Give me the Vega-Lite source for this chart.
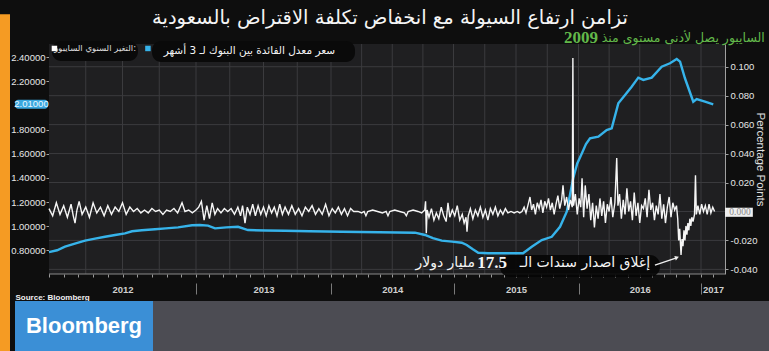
{
  "$schema": "https://vega.github.io/schema/vega-lite/v6.json",
  "background": "#0e0e0e",
  "padding": {"left": 0, "top": 8, "right": 0, "bottom": 0},
  "config": {
    "view": {"stroke": null},
    "axis": {"labelFont": "Liberation Sans", "titleFont": "Liberation Sans", "zindex": 1},
    "text": {"font": "DejaVu Sans"}
  },
  "columns": 2,
  "align": "none",
  "spacing": 0,
  "concat": [
    {
      "width": 10,
      "height": 311,
      "view": {"fill": "#f59b23", "stroke": null},
      "data": {"values": [{}]},
      "mark": {"type": "rect", "color": "#f59b23"},
      "encoding": {
        "x": {"datum": 0, "type": "quantitative", "scale": {"domain": [0, 1], "nice": false, "zero": false}, "axis": null},
        "x2": {"datum": 1},
        "y": {"datum": 0, "type": "quantitative", "scale": {"domain": [0, 1], "nice": false, "zero": false}, "axis": null},
        "y2": {"datum": 1.096}
      }
    },
    {
      "spacing": 0,
      "vconcat": [
        {
          "width": 710,
          "height": 230,
          "title": {
            "text": "تزامن ارتفاع السيولة مع انخفاض تكلفة الاقتراض بالسعودية",
            "font": "DejaVu Sans",
            "fontSize": 19.5,
            "fontWeight": "normal",
            "color": "#f5f5f5",
            "anchor": "middle",
            "dx": 20,
            "offset": 0
          },
          "layer": [
            {
              "layer": [
                {
                  "data": {"values": [{}]},
                  "mark": {"type": "rect", "color": "#1f1f21"},
                  "encoding": {
                    "x": {
                      "datum": 2012,
                      "type": "quantitative",
                      "scale": {"domain": [2012, 2013, 2014, 2015, 2016, 2017, 2017.194], "range": [34, 181, 316, 438.5, 563.5, 686, 710], "nice": false, "zero": false},
                      "axis": {
                        "orient": "bottom",
                        "values": [2012.5, 2013.5, 2014.5, 2015.5, 2016.5, 2017.097],
                        "tickCount": 30,
                        "labelExpr": "floor(datum.value)",
                        "ticks": false,
                        "domain": false,
                        "grid": false,
                        "labelFlush": false,
                        "labelOverlap": false,
                        "labelPadding": 10,
                        "labelFontSize": 9.5,
                        "labelFontWeight": "bold",
                        "labelColor": "#cfcfcf",
                        "title": "Source: Bloomberg",
                        "titleAnchor": "start",
                        "titleAlign": "left",
                        "titleX": 0,
                        "titleY": 23,
                        "titleFontSize": 8,
                        "titleFontWeight": "bold",
                        "titleColor": "#f0f0f0",
                        "titleBaseline": "middle"
                      }
                    },
                    "x2": {"datum": 2017.194},
                    "y": {
                      "datum": -0.0432,
                      "type": "quantitative",
                      "scale": {"domain": [-0.0432, 0.1157], "nice": false, "zero": false},
                      "axis": {
                        "orient": "right",
                        "values": [-0.04, -0.02, 0.02, 0.04, 0.06, 0.08, 0.1],
                        "tickCount": 30,
                        "labelExpr": "replace(format(datum.value, '.3f'), '−', '-')",
                        "labelOverlap": false,
                        "labelFlush": false,
                        "tickSize": 3,
                        "labelPadding": 2,
                        "labelFontSize": 9.5,
                        "labelColor": "#e6e6e6",
                        "domainColor": "#a0a0a0",
                        "tickColor": "#a0a0a0",
                        "grid": false,
                        "title": "Percentage Points",
                        "titleFontSize": 11.5,
                        "titleFontWeight": "normal",
                        "titleColor": "#e0e0e0",
                        "titleAngle": 90,
                        "titleX": 34,
                        "titleY": 115,
                        "titleAlign": "center",
                        "titleBaseline": "middle"
                      }
                    },
                    "y2": {"datum": 0.1157}
                  }
                },
                {
                  "data": {"values": [{"t": 2012.25}, {"t": 2012.5}, {"t": 2012.75}, {"t": 2013}, {"t": 2013.25}, {"t": 2013.5}, {"t": 2013.75}, {"t": 2014}, {"t": 2014.25}, {"t": 2014.5}, {"t": 2014.75}, {"t": 2015}, {"t": 2015.25}, {"t": 2015.5}, {"t": 2015.75}, {"t": 2016}, {"t": 2016.25}, {"t": 2016.5}, {"t": 2016.75}, {"t": 2017}]},
                  "mark": {"type": "rule", "color": "#3b3b3e", "strokeWidth": 1},
                  "encoding": {
                    "x": {"field": "t", "type": "quantitative"},
                    "y": {"datum": -0.0432},
                    "y2": {"datum": 0.1157}
                  }
                },
                {
                  "data": {"values": [{"w": -0.04}, {"w": -0.02}, {"w": 0}, {"w": 0.02}, {"w": 0.04}, {"w": 0.06}, {"w": 0.08}, {"w": 0.1}]},
                  "mark": {"type": "rule", "color": "#3b3b3e", "strokeWidth": 1},
                  "encoding": {
                    "y": {"field": "w", "type": "quantitative"},
                    "x": {"datum": 2012},
                    "x2": {"datum": 2017.194}
                  }
                },
                {
                  "data": {"values": [{}]},
                  "mark": {"type": "rule", "color": "#8a8a8a", "strokeWidth": 1},
                  "encoding": {
                    "x": {"datum": 2012},
                    "x2": {"datum": 2017.194},
                    "y": {"datum": -0.0432}
                  }
                }
              ]
            },
            {
              "layer": [
                {
                  "data": {"values": [{"t": 2012.02, "t2": 2012.605, "v": 2.535, "v2": 2.37}, {"t": 2012.701, "t2": 2014.196, "v": 2.535, "v2": 2.36}]},
                  "mark": {"type": "rect", "color": "#0a0a0a", "cornerRadius": 9},
                  "encoding": {
                    "x": {
                      "field": "t",
                      "type": "quantitative",
                      "axis": {
                        "orient": "bottom",
                        "values": [2013, 2014, 2015, 2016, 2017],
                        "tickCount": 30,
                        "labels": false,
                        "domain": false,
                        "grid": false,
                        "ticks": true,
                        "tickSize": 11,
                        "offset": 9,
                        "tickColor": "#7a7a7a",
                        "title": null
                      }
                    },
                    "x2": {"field": "t2"},
                    "y": {
                      "field": "v",
                      "type": "quantitative",
                      "scale": {"domain": [0.6035, 2.51], "nice": false, "zero": false},
                      "axis": {
                        "orient": "left",
                        "offset": -34,
                        "values": [0.8, 1.0, 1.2, 1.4, 1.6, 1.8, 2.2, 2.4],
                        "tickCount": 30,
                        "format": ".5f",
                        "labelOverlap": false,
                        "labelFlush": false,
                        "tickSize": 3,
                        "labelPadding": 1,
                        "labelFontSize": 9.5,
                        "labelColor": "#e6e6e6",
                        "domainColor": "#a0a0a0",
                        "tickColor": "#a0a0a0",
                        "grid": false,
                        "title": null
                      }
                    },
                    "y2": {"field": "v2"}
                  }
                },
                {
                  "data": {"values": [{"t": 2015.372, "t2": 2016.665, "v": 0.761, "v2": 0.579}]},
                  "mark": {"type": "rect", "color": "#050505", "opacity": 0.9, "cornerRadius": 10},
                  "encoding": {
                    "x": {"field": "t", "type": "quantitative"},
                    "x2": {"field": "t2"},
                    "y": {"field": "v", "type": "quantitative"},
                    "y2": {"field": "v2"}
                  }
                },
                {
                  "data": {"values": [
                    {"t": 2012.0, "v": 0.785}, {"t": 2012.055, "v": 0.8}, {"t": 2012.109, "v": 0.83}, {"t": 2012.176, "v": 0.855},
                    {"t": 2012.245, "v": 0.88}, {"t": 2012.313, "v": 0.897}, {"t": 2012.381, "v": 0.912}, {"t": 2012.45, "v": 0.927},
                    {"t": 2012.517, "v": 0.94}, {"t": 2012.565, "v": 0.958}, {"t": 2012.631, "v": 0.966}, {"t": 2012.721, "v": 0.974},
                    {"t": 2012.794, "v": 0.982}, {"t": 2012.878, "v": 0.99}, {"t": 2012.973, "v": 1.008}, {"t": 2013.028, "v": 1.01},
                    {"t": 2013.089, "v": 1.005}, {"t": 2013.141, "v": 0.982}, {"t": 2013.224, "v": 0.99}, {"t": 2013.311, "v": 0.995},
                    {"t": 2013.385, "v": 0.968}, {"t": 2013.514, "v": 0.964}, {"t": 2013.659, "v": 0.962}, {"t": 2013.841, "v": 0.958},
                    {"t": 2014.087, "v": 0.954}, {"t": 2014.392, "v": 0.95}, {"t": 2014.686, "v": 0.946}, {"t": 2014.767, "v": 0.927},
                    {"t": 2014.832, "v": 0.9}, {"t": 2014.904, "v": 0.88}, {"t": 2014.988, "v": 0.872}, {"t": 2015.066, "v": 0.863},
                    {"t": 2015.106, "v": 0.844}, {"t": 2015.152, "v": 0.81}, {"t": 2015.198, "v": 0.78}, {"t": 2015.276, "v": 0.775},
                    {"t": 2015.556, "v": 0.775}, {"t": 2015.626, "v": 0.83}, {"t": 2015.706, "v": 0.885}, {"t": 2015.786, "v": 0.912},
                    {"t": 2015.852, "v": 0.995}, {"t": 2015.906, "v": 1.12}, {"t": 2015.932, "v": 1.26}, {"t": 2015.958, "v": 1.4},
                    {"t": 2015.99, "v": 1.52}, {"t": 2016.026, "v": 1.6}, {"t": 2016.061, "v": 1.68}, {"t": 2016.094, "v": 1.728},
                    {"t": 2016.162, "v": 1.742}, {"t": 2016.23, "v": 1.797}, {"t": 2016.271, "v": 1.811}, {"t": 2016.325, "v": 2.018},
                    {"t": 2016.38, "v": 2.087}, {"t": 2016.434, "v": 2.156}, {"t": 2016.488, "v": 2.231}, {"t": 2016.529, "v": 2.212},
                    {"t": 2016.598, "v": 2.231}, {"t": 2016.679, "v": 2.322}, {"t": 2016.747, "v": 2.35}, {"t": 2016.802, "v": 2.386},
                    {"t": 2016.829, "v": 2.364}, {"t": 2016.869, "v": 2.226}, {"t": 2016.937, "v": 2.032}, {"t": 2016.965, "v": 2.054},
                    {"t": 2017.032, "v": 2.032}, {"t": 2017.099, "v": 2.01}
                  ]},
                  "mark": {"type": "line", "color": "#36b3ea", "strokeWidth": 2.4},
                  "encoding": {
                    "x": {"field": "t", "type": "quantitative"},
                    "y": {"field": "v", "type": "quantitative"}
                  }
                },
                {
                  "data": {"values": [{"t": 2011.769, "t2": 2011.993, "v": 2.047, "v2": 1.973}]},
                  "mark": {"type": "rect", "color": "#3aa7df", "cornerRadius": 3},
                  "encoding": {
                    "x": {"field": "t", "type": "quantitative"},
                    "x2": {"field": "t2"},
                    "y": {"field": "v", "type": "quantitative"},
                    "y2": {"field": "v2"}
                  }
                },
                {
                  "data": {"values": [{"t": 2011.881, "v": 2.01, "label": "2.01000"}]},
                  "mark": {"type": "text", "font": "Liberation Sans", "fontSize": 9.5, "color": "#eaf8ff", "align": "center", "baseline": "middle"},
                  "encoding": {
                    "x": {"field": "t", "type": "quantitative"},
                    "y": {"field": "v", "type": "quantitative"},
                    "text": {"field": "label"}
                  }
                },
                {
                  "data": {"values": [{"t": 2012.037, "v": 2.473}]},
                  "mark": {"type": "point", "shape": "square", "filled": true, "size": 30, "color": "#ffffff", "opacity": 1},
                  "encoding": {
                    "x": {"field": "t", "type": "quantitative"},
                    "y": {"field": "v", "type": "quantitative"}
                  }
                },
                {
                  "data": {"values": [{"t": 2012.673, "v": 2.473}]},
                  "mark": {"type": "point", "shape": "square", "filled": true, "size": 30, "color": "#36b3ea", "opacity": 1},
                  "encoding": {
                    "x": {"field": "t", "type": "quantitative"},
                    "y": {"field": "v", "type": "quantitative"}
                  }
                },
                {
                  "data": {"values": [{"t": 2012.592, "v": 2.473, "label": "التغير السنوي السايبور:"}]},
                  "mark": {"type": "text", "fontSize": 8.5, "color": "#dddddd", "align": "right", "baseline": "middle"},
                  "encoding": {
                    "x": {"field": "t", "type": "quantitative"},
                    "y": {"field": "v", "type": "quantitative"},
                    "text": {"field": "label"}
                  }
                },
                {
                  "data": {"values": [{"t": 2014.033, "v": 2.452, "label": "سعر معدل الفائدة بين البنوك لـ 3 أشهر"}]},
                  "mark": {"type": "text", "fontSize": 10.5, "color": "#f5f5f5", "align": "right", "baseline": "middle"},
                  "encoding": {
                    "x": {"field": "t", "type": "quantitative"},
                    "y": {"field": "v", "type": "quantitative"},
                    "text": {"field": "label"}
                  }
                },
                {
                  "data": {"values": [{"t": 2017.516, "v": 2.56, "label": "السايبور يصل لأدنى مستوى منذ"}]},
                  "mark": {"type": "text", "fontSize": 12.5, "color": "#62b84a", "align": "right", "baseline": "middle"},
                  "encoding": {
                    "x": {"field": "t", "type": "quantitative"},
                    "y": {"field": "v", "type": "quantitative"},
                    "text": {"field": "label"}
                  }
                },
                {
                  "data": {"values": [{"t": 2016.16, "v": 2.56, "label": "2009"}]},
                  "mark": {"type": "text", "font": "Liberation Serif", "fontWeight": "bold", "fontSize": 17, "color": "#62b84a", "align": "right", "baseline": "middle"},
                  "encoding": {
                    "x": {"field": "t", "type": "quantitative"},
                    "y": {"field": "v", "type": "quantitative"},
                    "text": {"field": "label"}
                  }
                },
                {
                  "data": {"values": [{"t": 2016.584, "v": 0.694, "label": "إغلاق اصدار سندات الـ"}, {"t": 2015.172, "v": 0.694, "label": "مليار دولار"}]},
                  "mark": {"type": "text", "fontSize": 14, "color": "#f5f5f5", "align": "right", "baseline": "middle"},
                  "encoding": {
                    "x": {"field": "t", "type": "quantitative"},
                    "y": {"field": "v", "type": "quantitative"},
                    "text": {"field": "label"}
                  }
                },
                {
                  "data": {"values": [{"t": 2015.428, "v": 0.692, "label": "17.5"}]},
                  "mark": {"type": "text", "font": "Liberation Serif", "fontWeight": "bold", "fontSize": 17, "color": "#f5f5f5", "align": "right", "baseline": "middle"},
                  "encoding": {
                    "x": {"field": "t", "type": "quantitative"},
                    "y": {"field": "v", "type": "quantitative"},
                    "text": {"field": "label"}
                  }
                },
                {
                  "data": {"values": [{"t": 2016.624, "t2": 2016.8, "v": 0.678, "v2": 0.738}]},
                  "mark": {"type": "rule", "color": "#f0f0f0", "strokeWidth": 1.3},
                  "encoding": {
                    "x": {"field": "t", "type": "quantitative"},
                    "x2": {"field": "t2"},
                    "y": {"field": "v", "type": "quantitative"},
                    "y2": {"field": "v2"}
                  }
                },
                {
                  "data": {"values": [{"t": 2016.804, "v": 0.74}]},
                  "mark": {"type": "point", "shape": "triangle-up", "filled": true, "size": 22, "angle": 71, "color": "#f0f0f0", "opacity": 1},
                  "encoding": {
                    "x": {"field": "t", "type": "quantitative"},
                    "y": {"field": "v", "type": "quantitative"}
                  }
                }
              ]
            },
            {
              "layer": [
                {
                  "data": {"values": [
                    {"t": 2012.0, "w": 0.002}, {"t": 2012.025, "w": -0.003}, {"t": 2012.05, "w": 0.006}, {"t": 2012.075, "w": -0.002},
                    {"t": 2012.1, "w": 0.004}, {"t": 2012.125, "w": -0.004}, {"t": 2012.15, "w": 0.005}, {"t": 2012.165, "w": -0.003},
                    {"t": 2012.177, "w": -0.008}, {"t": 2012.19, "w": 0.001}, {"t": 2012.205, "w": 0.007}, {"t": 2012.225, "w": -0.002},
                    {"t": 2012.25, "w": 0.003}, {"t": 2012.275, "w": -0.004}, {"t": 2012.3, "w": 0.006}, {"t": 2012.325, "w": -0.001},
                    {"t": 2012.35, "w": 0.003}, {"t": 2012.375, "w": -0.003}, {"t": 2012.4, "w": 0.004}, {"t": 2012.425, "w": -0.002},
                    {"t": 2012.45, "w": 0.003}, {"t": 2012.475, "w": 0.0}, {"t": 2012.5, "w": 0.006}, {"t": 2012.525, "w": -0.002},
                    {"t": 2012.55, "w": 0.003}, {"t": 2012.575, "w": 0.0}, {"t": 2012.6, "w": 0.002}, {"t": 2012.625, "w": -0.001},
                    {"t": 2012.65, "w": 0.001}, {"t": 2012.675, "w": -0.001}, {"t": 2012.7, "w": 0.002}, {"t": 2012.725, "w": 0.0},
                    {"t": 2012.75, "w": 0.001}, {"t": 2012.775, "w": -0.002}, {"t": 2012.8, "w": 0.001}, {"t": 2012.825, "w": 0.0},
                    {"t": 2012.85, "w": 0.002}, {"t": 2012.875, "w": -0.001}, {"t": 2012.905, "w": 0.006}, {"t": 2012.925, "w": 0.0},
                    {"t": 2012.95, "w": 0.001}, {"t": 2012.975, "w": -0.001}, {"t": 2013.0, "w": 0.001}, {"t": 2013.02, "w": 0.003},
                    {"t": 2013.04, "w": 0.007}, {"t": 2013.06, "w": -0.006}, {"t": 2013.08, "w": 0.004}, {"t": 2013.1, "w": -0.005},
                    {"t": 2013.12, "w": 0.006}, {"t": 2013.14, "w": -0.002}, {"t": 2013.16, "w": 0.002}, {"t": 2013.185, "w": -0.001},
                    {"t": 2013.21, "w": 0.002}, {"t": 2013.235, "w": 0.0}, {"t": 2013.26, "w": 0.002}, {"t": 2013.285, "w": -0.002},
                    {"t": 2013.31, "w": 0.003}, {"t": 2013.33, "w": -0.003}, {"t": 2013.345, "w": 0.004}, {"t": 2013.363, "w": -0.008},
                    {"t": 2013.38, "w": 0.003}, {"t": 2013.4, "w": -0.002}, {"t": 2013.42, "w": 0.005}, {"t": 2013.44, "w": -0.003},
                    {"t": 2013.46, "w": 0.004}, {"t": 2013.48, "w": -0.002}, {"t": 2013.5, "w": 0.003}, {"t": 2013.52, "w": -0.003},
                    {"t": 2013.54, "w": 0.004}, {"t": 2013.56, "w": -0.001}, {"t": 2013.58, "w": 0.003}, {"t": 2013.6, "w": -0.003},
                    {"t": 2013.62, "w": 0.005}, {"t": 2013.64, "w": -0.002}, {"t": 2013.66, "w": 0.003}, {"t": 2013.685, "w": -0.002},
                    {"t": 2013.71, "w": 0.004}, {"t": 2013.735, "w": -0.002}, {"t": 2013.76, "w": 0.002}, {"t": 2013.785, "w": -0.003},
                    {"t": 2013.81, "w": 0.003}, {"t": 2013.835, "w": 0.0}, {"t": 2013.86, "w": 0.004}, {"t": 2013.885, "w": -0.002},
                    {"t": 2013.91, "w": 0.002}, {"t": 2013.935, "w": -0.002}, {"t": 2013.96, "w": 0.005}, {"t": 2013.985, "w": -0.003},
                    {"t": 2014.01, "w": 0.002}, {"t": 2014.035, "w": -0.001}, {"t": 2014.06, "w": 0.003}, {"t": 2014.085, "w": -0.002},
                    {"t": 2014.11, "w": 0.002}, {"t": 2014.135, "w": -0.003}, {"t": 2014.16, "w": 0.002}, {"t": 2014.185, "w": 0.0},
                    {"t": 2014.22, "w": 0.0}, {"t": 2014.25, "w": -0.001}, {"t": 2014.27, "w": 0.0}, {"t": 2014.285, "w": -0.003},
                    {"t": 2014.3, "w": 0.0}, {"t": 2014.34, "w": 0.001}, {"t": 2014.38, "w": 0.0}, {"t": 2014.42, "w": -0.001},
                    {"t": 2014.45, "w": 0.0}, {"t": 2014.465, "w": -0.003}, {"t": 2014.48, "w": 0.0}, {"t": 2014.52, "w": 0.001},
                    {"t": 2014.56, "w": 0.0}, {"t": 2014.6, "w": -0.001}, {"t": 2014.615, "w": -0.003}, {"t": 2014.63, "w": 0.0},
                    {"t": 2014.67, "w": 0.001}, {"t": 2014.71, "w": 0.0}, {"t": 2014.74, "w": -0.001}, {"t": 2014.765, "w": 0.001},
                    {"t": 2014.772, "w": 0.007}, {"t": 2014.778, "w": -0.015}, {"t": 2014.785, "w": 0.001}, {"t": 2014.8, "w": -0.004},
                    {"t": 2014.82, "w": 0.002}, {"t": 2014.84, "w": -0.006}, {"t": 2014.86, "w": -0.001}, {"t": 2014.88, "w": -0.005},
                    {"t": 2014.9, "w": 0.003}, {"t": 2014.92, "w": -0.003}, {"t": 2014.94, "w": -0.007}, {"t": 2014.955, "w": 0.006},
                    {"t": 2014.97, "w": -0.004}, {"t": 2014.99, "w": 0.001}, {"t": 2015.01, "w": -0.003}, {"t": 2015.03, "w": 0.004},
                    {"t": 2015.05, "w": -0.006}, {"t": 2015.07, "w": -0.002}, {"t": 2015.085, "w": -0.008}, {"t": 2015.1, "w": -0.004},
                    {"t": 2015.108, "w": -0.014}, {"t": 2015.118, "w": -0.003}, {"t": 2015.135, "w": 0.002}, {"t": 2015.155, "w": -0.005},
                    {"t": 2015.175, "w": 0.001}, {"t": 2015.195, "w": -0.003}, {"t": 2015.215, "w": 0.003}, {"t": 2015.235, "w": -0.004},
                    {"t": 2015.255, "w": 0.001}, {"t": 2015.275, "w": -0.006}, {"t": 2015.295, "w": 0.002}, {"t": 2015.315, "w": -0.002},
                    {"t": 2015.335, "w": 0.003}, {"t": 2015.355, "w": -0.003}, {"t": 2015.375, "w": 0.001}, {"t": 2015.395, "w": -0.002},
                    {"t": 2015.415, "w": 0.002}, {"t": 2015.435, "w": -0.001}, {"t": 2015.46, "w": 0.0}, {"t": 2015.485, "w": -0.001},
                    {"t": 2015.51, "w": 0.0}, {"t": 2015.53, "w": -0.001}, {"t": 2015.548, "w": 0.0}, {"t": 2015.565, "w": 0.003},
                    {"t": 2015.58, "w": -0.001}, {"t": 2015.595, "w": 0.004}, {"t": 2015.612, "w": 0.01}, {"t": 2015.625, "w": 0.001},
                    {"t": 2015.64, "w": 0.005}, {"t": 2015.655, "w": -0.002}, {"t": 2015.67, "w": 0.006}, {"t": 2015.685, "w": 0.002},
                    {"t": 2015.7, "w": 0.008}, {"t": 2015.715, "w": -0.001}, {"t": 2015.73, "w": 0.007}, {"t": 2015.745, "w": 0.003},
                    {"t": 2015.76, "w": 0.009}, {"t": 2015.775, "w": 0.001}, {"t": 2015.79, "w": 0.006}, {"t": 2015.805, "w": -0.002},
                    {"t": 2015.82, "w": 0.005}, {"t": 2015.835, "w": 0.011}, {"t": 2015.85, "w": 0.002}, {"t": 2015.865, "w": 0.008},
                    {"t": 2015.876, "w": 0.018}, {"t": 2015.89, "w": 0.004}, {"t": 2015.905, "w": 0.01}, {"t": 2015.92, "w": 0.001},
                    {"t": 2015.935, "w": 0.008}, {"t": 2015.95, "w": 0.003}, {"t": 2015.955, "w": 0.106}, {"t": 2015.96, "w": 0.004},
                    {"t": 2015.975, "w": 0.012}, {"t": 2015.99, "w": -0.002}, {"t": 2016.005, "w": 0.009}, {"t": 2016.018, "w": 0.003},
                    {"t": 2016.029, "w": 0.023}, {"t": 2016.042, "w": -0.004}, {"t": 2016.055, "w": 0.018}, {"t": 2016.07, "w": 0.002},
                    {"t": 2016.085, "w": 0.012}, {"t": 2016.1, "w": -0.006}, {"t": 2016.115, "w": 0.006}, {"t": 2016.13, "w": -0.011},
                    {"t": 2016.145, "w": 0.004}, {"t": 2016.16, "w": -0.005}, {"t": 2016.175, "w": 0.009}, {"t": 2016.19, "w": -0.003},
                    {"t": 2016.205, "w": 0.007}, {"t": 2016.22, "w": -0.008}, {"t": 2016.235, "w": 0.005}, {"t": 2016.25, "w": 0.0},
                    {"t": 2016.265, "w": 0.01}, {"t": 2016.28, "w": -0.004}, {"t": 2016.297, "w": 0.006}, {"t": 2016.312, "w": 0.037},
                    {"t": 2016.322, "w": 0.004}, {"t": 2016.335, "w": 0.012}, {"t": 2016.35, "w": -0.005}, {"t": 2016.365, "w": 0.008},
                    {"t": 2016.38, "w": -0.002}, {"t": 2016.395, "w": 0.016}, {"t": 2016.41, "w": 0.0}, {"t": 2016.425, "w": 0.007},
                    {"t": 2016.44, "w": -0.006}, {"t": 2016.455, "w": 0.013}, {"t": 2016.47, "w": -0.003}, {"t": 2016.485, "w": 0.006},
                    {"t": 2016.5, "w": -0.008}, {"t": 2016.515, "w": 0.004}, {"t": 2016.53, "w": 0.002}, {"t": 2016.545, "w": 0.009},
                    {"t": 2016.56, "w": -0.004}, {"t": 2016.575, "w": 0.015}, {"t": 2016.59, "w": 0.001}, {"t": 2016.605, "w": 0.006},
                    {"t": 2016.62, "w": -0.006}, {"t": 2016.635, "w": 0.004}, {"t": 2016.65, "w": -0.002}, {"t": 2016.665, "w": 0.012},
                    {"t": 2016.68, "w": -0.005}, {"t": 2016.695, "w": 0.005}, {"t": 2016.71, "w": -0.008}, {"t": 2016.725, "w": 0.003},
                    {"t": 2016.74, "w": 0.01}, {"t": 2016.755, "w": -0.004}, {"t": 2016.77, "w": 0.006}, {"t": 2016.785, "w": 0.001},
                    {"t": 2016.8, "w": 0.004}, {"t": 2016.81, "w": -0.005}, {"t": 2016.818, "w": -0.02}, {"t": 2016.826, "w": -0.012},
                    {"t": 2016.837, "w": -0.03}, {"t": 2016.845, "w": -0.019}, {"t": 2016.853, "w": -0.024}, {"t": 2016.861, "w": -0.013},
                    {"t": 2016.869, "w": -0.02}, {"t": 2016.877, "w": -0.01}, {"t": 2016.885, "w": -0.016}, {"t": 2016.893, "w": -0.008},
                    {"t": 2016.901, "w": -0.013}, {"t": 2016.909, "w": -0.005}, {"t": 2016.917, "w": -0.01}, {"t": 2016.925, "w": -0.004},
                    {"t": 2016.935, "w": -0.007}, {"t": 2016.947, "w": -0.002}, {"t": 2016.955, "w": 0.025}, {"t": 2016.962, "w": -0.002},
                    {"t": 2016.975, "w": 0.004}, {"t": 2016.99, "w": -0.002}, {"t": 2017.005, "w": 0.005}, {"t": 2017.02, "w": 0.0},
                    {"t": 2017.035, "w": 0.004}, {"t": 2017.05, "w": -0.002}, {"t": 2017.065, "w": 0.005}, {"t": 2017.08, "w": -0.001},
                    {"t": 2017.095, "w": 0.003}, {"t": 2017.11, "w": 0.0}
                  ]},
                  "mark": {"type": "line", "color": "#f5f5f5", "strokeWidth": 1.4},
                  "encoding": {
                    "x": {
                      "field": "t",
                      "type": "quantitative",
                      "axis": {
                        "orient": "bottom",
                        "tickCount": 52,
                        "labels": false,
                        "domain": false,
                        "grid": false,
                        "tickSize": 3,
                        "tickColor": "#9a9a9a",
                        "title": null
                      }
                    },
                    "y": {
                      "field": "w",
                      "type": "quantitative",
                      "scale": {"domain": [-0.0432, 0.1157], "nice": false, "zero": false},
                      "axis": null
                    }
                  }
                },
                {
                  "data": {"values": [{"t": 2017.194, "t2": 2017.419, "w": 0.0026, "w2": -0.0037}]},
                  "mark": {"type": "rect", "color": "#eeeeee"},
                  "encoding": {
                    "x": {"field": "t", "type": "quantitative"},
                    "x2": {"field": "t2"},
                    "y": {"field": "w", "type": "quantitative"},
                    "y2": {"field": "w2"}
                  }
                },
                {
                  "data": {"values": [{"t": 2017.315, "w": -0.0005, "label": "0.000"}]},
                  "mark": {"type": "text", "font": "Liberation Serif", "fontSize": 9.5, "color": "#8a8a8a", "align": "center", "baseline": "middle"},
                  "encoding": {
                    "x": {"field": "t", "type": "quantitative"},
                    "y": {"field": "w", "type": "quantitative"},
                    "text": {"field": "label"}
                  }
                }
              ]
            }
          ],
          "resolve": {"scale": {"y": "independent"}, "axis": {"x": "independent", "y": "independent"}}
        },
        {
          "spacing": 0,
          "hconcat": [
            {
              "width": 138,
              "height": 50,
              "view": {"fill": "#3b8fd6", "stroke": null},
              "data": {"values": [{"label": "Bloomberg"}]},
              "mark": {"type": "text", "font": "Liberation Sans", "fontWeight": "bold", "fontSize": 22, "color": "#ffffff", "align": "center", "baseline": "middle"},
              "encoding": {"text": {"field": "label"}}
            },
            {
              "width": 621,
              "height": 50,
              "view": {"fill": "#4c4c53", "stroke": null},
              "data": {"values": [{"label": ""}]},
              "mark": {"type": "text"},
              "encoding": {"text": {"field": "label"}}
            }
          ]
        }
      ]
    }
  ]
}
